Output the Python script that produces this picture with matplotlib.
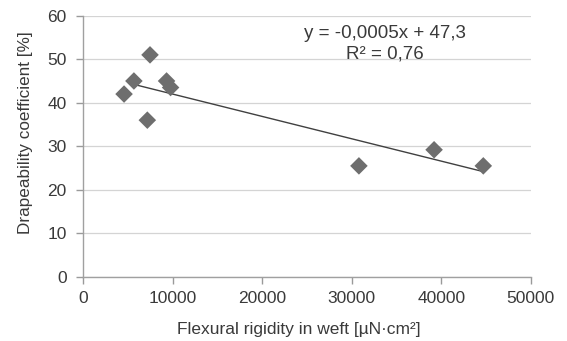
import numpy as np
import matplotlib
matplotlib.use("Agg")
import matplotlib.pyplot as plt

plt.rcParams['font.family'] = ['Liberation Sans', 'DejaVu Sans']

rigidity = [4550, 5650, 7450, 7150, 9300, 9750, 30800, 39200, 44700]
drape = [42.0, 45.0, 51.0, 36.0, 45.0, 43.5, 25.5, 29.2, 25.5]
trend_range = [5650, 44700]
x_ticks = [0, 10000, 20000, 30000, 40000, 50000]
y_ticks = [0, 10, 20, 30, 40, 50, 60]
equation = "y = -0,0005x + 47,3"
r2_text = "R² = 0,76"

fig = plt.figure(figsize=(5.67, 3.41), dpi=100)
ax = fig.add_axes([0.147, 0.188, 0.789, 0.766])

text_c = '#3a3a3a'
ax.grid(axis='y', color='#d4d4d4', linewidth=0.9)
ax.set_axisbelow(True)

slope, icpt = np.polyfit(rigidity, drape, 1)
tx = np.array(trend_range)
ax.plot(tx, slope * tx + icpt, color='#404040', linewidth=1.0, zorder=2)
ax.scatter(rigidity, drape, marker='D', s=80, color='#6e6e6e', edgecolors='none', zorder=3)

ax.set_xlim(0, 50000)
ax.set_ylim(0, 60)
ax.set_xticks(x_ticks)
ax.set_yticks(y_ticks)
ax.tick_params(colors='#9a9a9a', labelcolor=text_c, labelsize=12.5, length=5, width=1)
ax.tick_params(axis='y', pad=7)
ax.tick_params(axis='x', pad=5)
for s in ['top', 'right']:
    ax.spines[s].set_visible(False)
for s in ['left', 'bottom']:
    ax.spines[s].set_color('#a0a0a0')
    ax.spines[s].set_linewidth(1)

ax.set_xlabel("Flexural rigidity in weft [µN·cm²]", fontsize=12.5, color=text_c)
ax.set_ylabel("Drapeability coefficient [%]", fontsize=12.3, color=text_c)
ax.xaxis.set_label_coords(0.481, -0.172)
ax.yaxis.set_label_coords(-0.112, 0.552)

ax.text(33700, 56.0, equation, ha='center', va='center', fontsize=13.5, color=text_c)
ax.text(33700, 51.2, r2_text, ha='center', va='center', fontsize=13.5, color=text_c)

fig.savefig("out.png", dpi=100)
